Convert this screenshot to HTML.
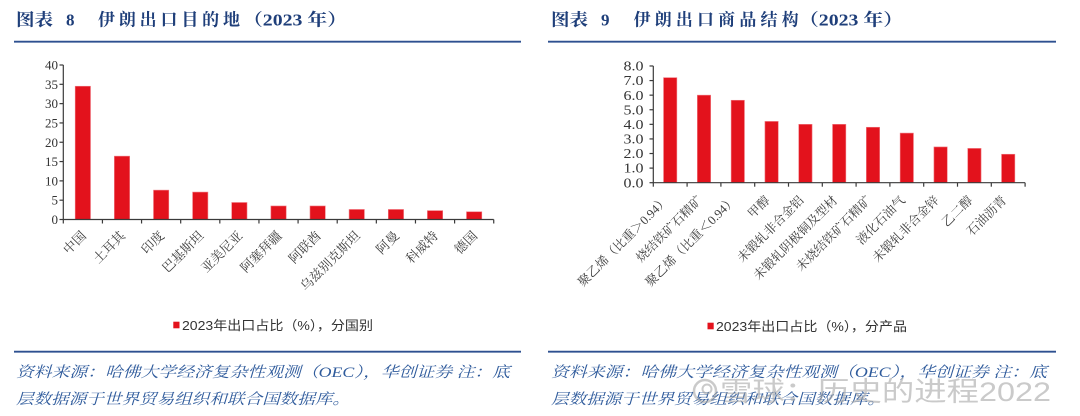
<!DOCTYPE html>
<html>
<head>
<meta charset="utf-8">
<style>
  html, body { margin:0; padding:0; background:#ffffff; }
  body { width:1080px; height:416px; overflow:hidden; }
  svg { display:block; }
  .title { font-family:"Liberation Serif","Noto Serif CJK SC",serif; font-weight:bold; font-size:17px; fill:#1F3F7A; }
  .ytick { font-family:"Liberation Serif","Noto Serif CJK SC",serif; fill:#333333; }
  .xlab { font-family:"Liberation Serif","Noto Serif CJK SC",serif; font-size:13px; fill:#3d3d3d; }
  .xlabR { font-family:"Liberation Serif","Noto Serif CJK SC",serif; font-size:12.5px; fill:#3d3d3d; }
  .legend { font-family:"Liberation Sans","Noto Sans CJK SC",sans-serif; font-size:13px; fill:#333333; }
  .src { font-family:"Liberation Serif","Noto Serif CJK SC",serif; font-size:15px; font-style:italic; fill:#2F5B9C; }
  .wm { font-family:"Liberation Sans","Noto Sans CJK SC",sans-serif; font-size:27px; fill:#a8a8a8; opacity:0.6; }
</style>
</head>
<body>
<svg width="1080" height="416" viewBox="0 0 1080 416" xmlns="http://www.w3.org/2000/svg">
  <!-- ================= LEFT CHART ================= -->
  <text class="title" x="16" y="25.5" textLength="37" lengthAdjust="spacingAndGlyphs">图表</text>
  <text class="title" x="66" y="25.5">8</text>
  <text class="title" x="98" y="25.5" textLength="142" lengthAdjust="spacing">伊朗出口目的地</text>
  <text class="title" x="243" y="25.5" textLength="104" lengthAdjust="spacingAndGlyphs">（2023 年）</text>
  <line x1="14" y1="41.7" x2="521" y2="41.7" stroke="#2E5090" stroke-width="1.8"/>

  <g fill="#E3121C" stroke="#F07880" stroke-width="0.6">
    <rect x="75.2" y="86.24" width="15.3" height="133.26"/>
    <rect x="114.35" y="156.15" width="15.3" height="63.35"/>
    <rect x="153.5" y="190.14" width="15.3" height="29.36"/>
    <rect x="192.6" y="192.08" width="15.3" height="27.42"/>
    <rect x="231.7" y="202.5" width="15.3" height="17.0"/>
    <rect x="270.9" y="205.98" width="15.3" height="13.52"/>
    <rect x="310.0" y="205.98" width="15.3" height="13.52"/>
    <rect x="349.1" y="209.46" width="15.3" height="10.04"/>
    <rect x="388.3" y="209.46" width="15.3" height="10.04"/>
    <rect x="427.4" y="210.62" width="15.3" height="8.88"/>
    <rect x="466.5" y="211.77" width="15.3" height="7.73"/>
  </g>

  <g stroke="#3a3a3a" stroke-width="1.2" fill="none">
    <line x1="63.3" y1="65" x2="63.3" y2="219.5"/>
    <line x1="63.3" y1="219.5" x2="493.7" y2="219.5"/>
    <line x1="59.5" y1="219.5" x2="63.3" y2="219.5"/>
    <line x1="59.5" y1="200.19" x2="63.3" y2="200.19"/>
    <line x1="59.5" y1="180.88" x2="63.3" y2="180.88"/>
    <line x1="59.5" y1="161.56" x2="63.3" y2="161.56"/>
    <line x1="59.5" y1="142.25" x2="63.3" y2="142.25"/>
    <line x1="59.5" y1="122.94" x2="63.3" y2="122.94"/>
    <line x1="59.5" y1="103.63" x2="63.3" y2="103.63"/>
    <line x1="59.5" y1="84.31" x2="63.3" y2="84.31"/>
    <line x1="59.5" y1="65" x2="63.3" y2="65"/>
    <line x1="63.3" y1="219.5" x2="63.3" y2="223.5"/>
    <line x1="102.43" y1="219.5" x2="102.43" y2="223.5"/>
    <line x1="141.56" y1="219.5" x2="141.56" y2="223.5"/>
    <line x1="180.69" y1="219.5" x2="180.69" y2="223.5"/>
    <line x1="219.82" y1="219.5" x2="219.82" y2="223.5"/>
    <line x1="258.95" y1="219.5" x2="258.95" y2="223.5"/>
    <line x1="298.08" y1="219.5" x2="298.08" y2="223.5"/>
    <line x1="337.21" y1="219.5" x2="337.21" y2="223.5"/>
    <line x1="376.34" y1="219.5" x2="376.34" y2="223.5"/>
    <line x1="415.47" y1="219.5" x2="415.47" y2="223.5"/>
    <line x1="454.6" y1="219.5" x2="454.6" y2="223.5"/>
    <line x1="493.73" y1="219.5" x2="493.73" y2="223.5"/>
  </g>

  <g class="ytick" font-size="13" text-anchor="end">
    <text x="58" y="224">0</text>
    <text x="58" y="204.7">5</text>
    <text x="58" y="185.4">10</text>
    <text x="58" y="166.1">15</text>
    <text x="58" y="146.8">20</text>
    <text x="58" y="127.4">25</text>
    <text x="58" y="108.1">30</text>
    <text x="58" y="88.8">35</text>
    <text x="58" y="69.5">40</text>
  </g>

  <g class="xlab" text-anchor="end">
    <text transform="translate(86.9,236.5) rotate(-45)">中国</text>
    <text transform="translate(126,236.5) rotate(-45)">土耳其</text>
    <text transform="translate(165.1,236.5) rotate(-45)">印度</text>
    <text transform="translate(204.3,236.5) rotate(-45)">巴基斯坦</text>
    <text transform="translate(243.4,236.5) rotate(-45)">亚美尼亚</text>
    <text transform="translate(282.5,236.5) rotate(-45)">阿塞拜疆</text>
    <text transform="translate(321.7,236.5) rotate(-45)">阿联酋</text>
    <text transform="translate(360.8,236.5) rotate(-45)">乌兹别克斯坦</text>
    <text transform="translate(399.9,236.5) rotate(-45)">阿曼</text>
    <text transform="translate(439,236.5) rotate(-45)">科威特</text>
    <text transform="translate(478.2,236.5) rotate(-45)">德国</text>
  </g>

  <rect x="173.3" y="321.7" width="6.2" height="6.6" fill="#E3121C"/>
  <text class="legend" x="182" y="330" textLength="191" lengthAdjust="spacingAndGlyphs">2023年出口占比（%），分国别</text>

  <line x1="14" y1="351.7" x2="521" y2="351.7" stroke="#2E5090" stroke-width="1.8"/>
  <text class="src" x="16" y="377" textLength="494" lengthAdjust="spacingAndGlyphs">资料来源：哈佛大学经济复杂性观测（OEC），华创证券 注：底</text>
  <text class="src" x="16" y="404" textLength="334" lengthAdjust="spacingAndGlyphs">层数据源于世界贸易组织和联合国数据库。</text>

  <!-- ================= RIGHT CHART ================= -->
  <text class="title" x="551" y="25.5" textLength="37" lengthAdjust="spacingAndGlyphs">图表</text>
  <text class="title" x="601" y="25.5">9</text>
  <text class="title" x="633.6" y="25.5" textLength="165" lengthAdjust="spacing">伊朗出口商品结构</text>
  <text class="title" x="799" y="25.5" textLength="104" lengthAdjust="spacingAndGlyphs">（2023 年）</text>
  <line x1="548" y1="41.7" x2="1056" y2="41.7" stroke="#2E5090" stroke-width="1.8"/>

  <g fill="#E3121C" stroke="#F07880" stroke-width="0.6">
    <rect x="663.55" y="77.65" width="13.3" height="105.05"/>
    <rect x="697.35" y="95.16" width="13.3" height="87.54"/>
    <rect x="731.15" y="100.27" width="13.3" height="82.43"/>
    <rect x="764.95" y="121.42" width="13.3" height="61.28"/>
    <rect x="798.75" y="124.34" width="13.3" height="58.36"/>
    <rect x="832.55" y="124.34" width="13.3" height="58.36"/>
    <rect x="866.35" y="127.26" width="13.3" height="55.44"/>
    <rect x="900.15" y="133.09" width="13.3" height="49.61"/>
    <rect x="933.95" y="146.95" width="13.3" height="35.75"/>
    <rect x="967.75" y="148.41" width="13.3" height="34.29"/>
    <rect x="1001.55" y="154.25" width="13.3" height="28.45"/>
  </g>

  <g stroke="#3a3a3a" stroke-width="1.2" fill="none">
    <line x1="653.3" y1="66" x2="653.3" y2="182.7"/>
    <line x1="653.3" y1="182.7" x2="1025.1" y2="182.7"/>
    <line x1="649.5" y1="182.7" x2="653.3" y2="182.7"/>
    <line x1="649.5" y1="168.11" x2="653.3" y2="168.11"/>
    <line x1="649.5" y1="153.52" x2="653.3" y2="153.52"/>
    <line x1="649.5" y1="138.93" x2="653.3" y2="138.93"/>
    <line x1="649.5" y1="124.34" x2="653.3" y2="124.34"/>
    <line x1="649.5" y1="109.75" x2="653.3" y2="109.75"/>
    <line x1="649.5" y1="95.16" x2="653.3" y2="95.16"/>
    <line x1="649.5" y1="80.57" x2="653.3" y2="80.57"/>
    <line x1="649.5" y1="65.98" x2="653.3" y2="65.98"/>
    <line x1="653.3" y1="182.7" x2="653.3" y2="186.7"/>
    <line x1="687.1" y1="182.7" x2="687.1" y2="186.7"/>
    <line x1="720.9" y1="182.7" x2="720.9" y2="186.7"/>
    <line x1="754.7" y1="182.7" x2="754.7" y2="186.7"/>
    <line x1="788.5" y1="182.7" x2="788.5" y2="186.7"/>
    <line x1="822.3" y1="182.7" x2="822.3" y2="186.7"/>
    <line x1="856.1" y1="182.7" x2="856.1" y2="186.7"/>
    <line x1="889.9" y1="182.7" x2="889.9" y2="186.7"/>
    <line x1="923.7" y1="182.7" x2="923.7" y2="186.7"/>
    <line x1="957.5" y1="182.7" x2="957.5" y2="186.7"/>
    <line x1="991.3" y1="182.7" x2="991.3" y2="186.7"/>
    <line x1="1025.1" y1="182.7" x2="1025.1" y2="186.7"/>
  </g>

  <g class="ytick" font-size="13.5" text-anchor="end">
    <text x="643.5" y="187.3" textLength="20" lengthAdjust="spacingAndGlyphs">0.0</text>
    <text x="643.5" y="172.7" textLength="20" lengthAdjust="spacingAndGlyphs">1.0</text>
    <text x="643.5" y="158.1" textLength="20" lengthAdjust="spacingAndGlyphs">2.0</text>
    <text x="643.5" y="143.5" textLength="20" lengthAdjust="spacingAndGlyphs">3.0</text>
    <text x="643.5" y="128.9" textLength="20" lengthAdjust="spacingAndGlyphs">4.0</text>
    <text x="643.5" y="114.4" textLength="20" lengthAdjust="spacingAndGlyphs">5.0</text>
    <text x="643.5" y="99.8" textLength="20" lengthAdjust="spacingAndGlyphs">6.0</text>
    <text x="643.5" y="85.2" textLength="20" lengthAdjust="spacingAndGlyphs">7.0</text>
    <text x="643.5" y="70.6" textLength="20" lengthAdjust="spacingAndGlyphs">8.0</text>
  </g>

  <g class="xlabR" text-anchor="end">
    <text transform="translate(669.2,201) rotate(-45)">聚乙烯（比重＞0.94）</text>
    <text transform="translate(703,201) rotate(-45)">烧结铁矿石精矿</text>
    <text transform="translate(736.8,201) rotate(-45)">聚乙烯（比重＜0.94）</text>
    <text transform="translate(770.6,201) rotate(-45)">甲醇</text>
    <text transform="translate(804.4,201) rotate(-45)">未锻轧非合金铝</text>
    <text transform="translate(838.2,201) rotate(-45)">未锻轧阴极铜及型材</text>
    <text transform="translate(872,201) rotate(-45)">未烧结铁矿石精矿</text>
    <text transform="translate(905.8,201) rotate(-45)">液化石油气</text>
    <text transform="translate(939.6,201) rotate(-45)">未锻轧非合金锌</text>
    <text transform="translate(973.4,201) rotate(-45)">乙二醇</text>
    <text transform="translate(1007.2,201) rotate(-45)">石油沥青</text>
  </g>

  <rect x="707.5" y="322.7" width="6.2" height="6.6" fill="#E3121C"/>
  <text class="legend" x="716" y="331" textLength="191" lengthAdjust="spacingAndGlyphs">2023年出口占比（%），分产品</text>

  <line x1="548" y1="351.7" x2="1056" y2="351.7" stroke="#2E5090" stroke-width="1.8"/>
  <text class="src" x="551" y="377" textLength="496" lengthAdjust="spacingAndGlyphs">资料来源：哈佛大学经济复杂性观测（OEC），华创证券 注：底</text>
  <text class="src" x="551" y="404" textLength="334" lengthAdjust="spacingAndGlyphs">层数据源于世界贸易组织和联合国数据库。</text>

  <g opacity="0.55">
    <circle cx="705" cy="391" r="11" fill="none" stroke="#a0a0a0" stroke-width="2.5"/>
    <circle cx="707" cy="389" r="4.5" fill="none" stroke="#a0a0a0" stroke-width="2"/>
  </g>
  <text class="wm" x="720" y="401" textLength="331" lengthAdjust="spacingAndGlyphs">雪球：历史的进程2022</text>
</svg>
</body>
</html>
